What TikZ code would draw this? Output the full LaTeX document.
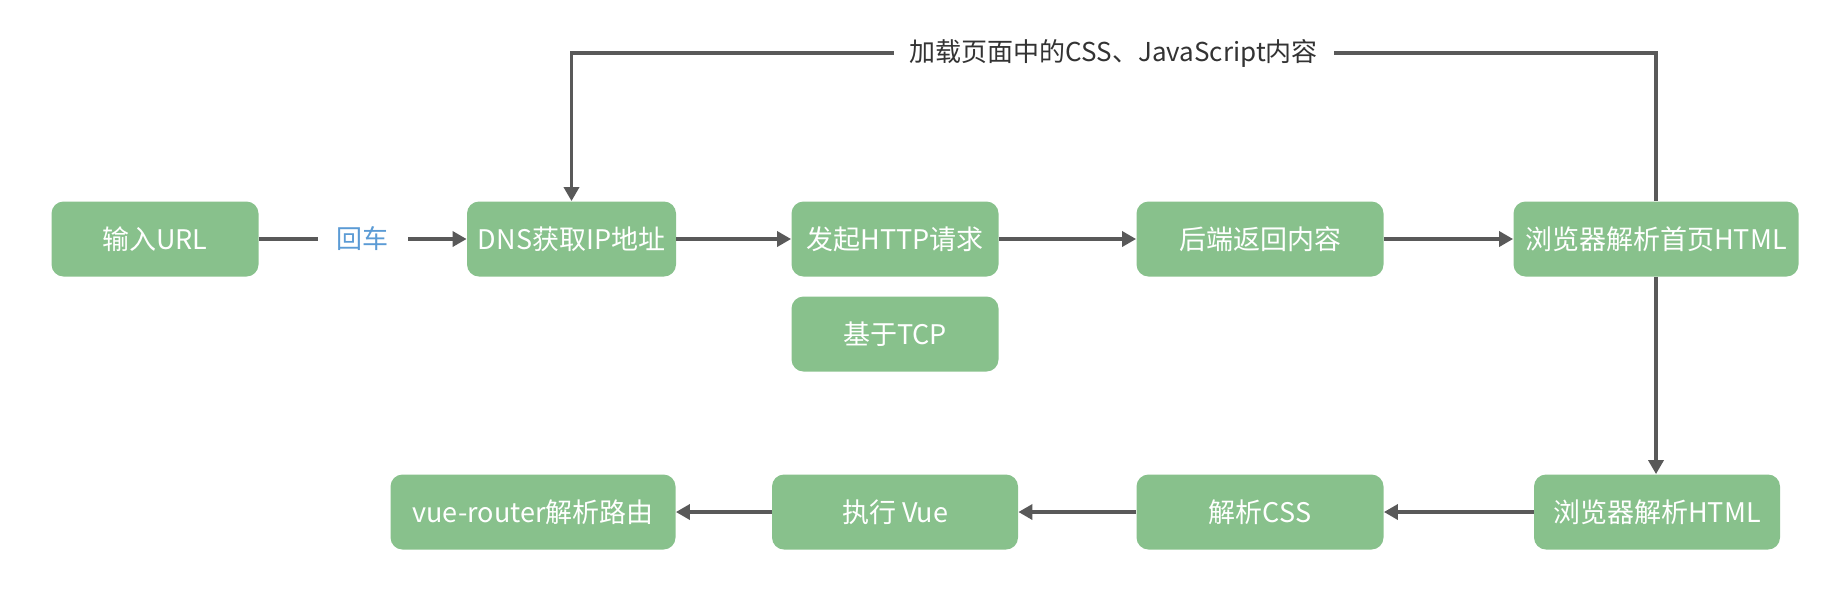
\documentclass[tikz,border=0pt]{standalone}
\usepackage{fontspec}
\setmainfont{Noto Sans CJK SC}
\usetikzlibrary{arrows.meta}
\definecolor{boxgreen}{RGB}{136,193,140}
\definecolor{linegray}{RGB}{89,89,89}
\definecolor{labelblue}{RGB}{91,155,213}
\definecolor{textgray}{RGB}{51,51,51}
\begin{document}
\begin{tikzpicture}[x=0.5pt,y=-0.5pt,
  stepbox/.style={draw=none, fill=boxgreen, rounded corners=6pt, text=white,
    font=\fontsize{13.5}{15}\selectfont, minimum height=37.5pt, inner sep=0pt, anchor=center},
  conn/.style={draw=linegray, line width=1.7pt, -{Triangle[length=7pt,width=7.5pt]}},
  lbl/.style={fill=white, inner xsep=8pt, inner ysep=2pt, font=\fontsize{13}{15}\selectfont},
]
\useasboundingbox (0,0) rectangle (1836,602);
\node[stepbox, minimum width=103.5pt] (url) at (155,239) {输入URL};
\node[stepbox, minimum width=104.5pt] (dns) at (571.5,239) {DNS获取IP地址};
\node[stepbox, minimum width=103.5pt] (http) at (895,239) {发起HTTP请求};
\node[stepbox, minimum width=103.5pt] (tcp) at (895,334) {基于TCP};
\node[stepbox, minimum width=123.5pt] (back) at (1260,239) {后端返回内容};
\node[stepbox, minimum width=142.5pt] (hp) at (1656,239) {浏览器解析首页HTML};
\node[stepbox, minimum width=123pt] (hh) at (1657,512) {浏览器解析HTML};
\node[stepbox, minimum width=123.5pt] (css) at (1260,512) {解析CSS};
\node[stepbox, minimum width=123pt] (vue) at (895,512) {执行 Vue};
\node[stepbox, minimum width=142.5pt] (router) at (533,512) {vue-router解析路由};

\draw[conn] (url) -- node[lbl, text=labelblue, inner xsep=9.5pt] (enter) {回车} (dns);
\draw[conn] (dns) -- (http);
\draw[conn] (http) -- (back);
\draw[conn] (back) -- (hp);
\coordinate (tr) at (hp.north |- 0,53);
\coordinate (tl) at (dns.north |- 0,53);
\draw[conn] (hp.north) -- (tr) -- node[lbl, text=textgray] (load) {加载页面中的CSS、JavaScript内容} (tl) -- (dns.north);
\draw[conn] (hp.south) -- (hp.south |- hh.north);
\draw[conn] (hh) -- (css);
\draw[conn] (css) -- (vue);
\draw[conn] (vue) -- (router);
\end{tikzpicture}
\end{document}
